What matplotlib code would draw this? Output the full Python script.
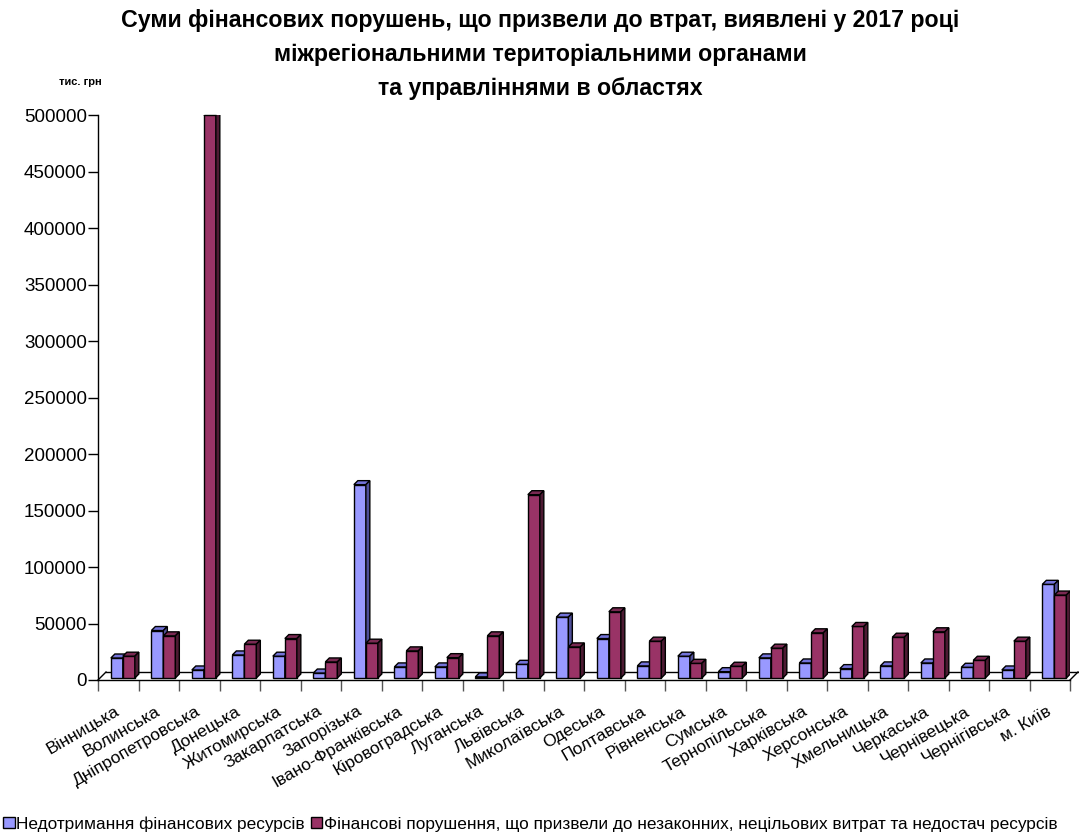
import numpy as np
import matplotlib
matplotlib.use("Agg")
import matplotlib.pyplot as plt
from matplotlib.patches import Polygon, Patch
from matplotlib.transforms import ScaledTranslation, IdentityTransform

regions = ['Вінницька', 'Волинська', 'Дніпропетровська', 'Донецька', 'Житомирська',
           'Закарпатська', 'Запорізька', 'Івано-Франківська', 'Кіровоградська', 'Луганська',
           'Львівська', 'Миколаївська', 'Одеська', 'Полтавська', 'Рівненська', 'Сумська',
           'Тернопільська', 'Харківська', 'Херсонська', 'Хмельницька', 'Черкаська',
           'Чернівецька', 'Чернігівська', 'м. Київ']
underreceived = [17700, 42000, 7100, 20400, 19300, 4400, 171100, 9800, 9800, 1000, 12100, 53900,
                 34900, 10700, 19300, 5600, 17800, 13300, 8300, 10700, 13300, 9500, 7100, 82900]
losses = [19300, 37300, 498000, 29900, 34900, 14200, 30800, 24000, 18000, 37300, 162200, 27500,
          58600, 32600, 13000, 10400, 26400, 40000, 45600, 36100, 40900, 15700, 32600, 73400]
yticks = [0, 50000, 100000, 150000, 200000, 250000, 300000, 350000, 400000, 450000, 500000]
series_names = ['Недотримання фінансових ресурсів',
                'Фінансові порушення, що призвели до незаконних, нецільових витрат та недостач ресурсів']

plt.rcParams['font.family'] = ['Liberation Sans', 'DejaVu Sans']

# front / top / side shades for the pseudo-3d bars
blue = ('#9999FF', '#7373D9', '#4F4F99')
wine = ('#993366', '#7A2952', '#4D1A33')

W, H, DPI = 1079, 838, 100
fig = plt.figure(figsize=(W / DPI, H / DPI), dpi=DPI)
ax = fig.add_axes([98 / W, 1 - 680 / H, 972 / W, 565 / H])
ax.set_xlim(-0.5, len(regions) - 0.5)
ax.set_ylim(0, 500000)

for s in ['top', 'right']:
    ax.spines[s].set_visible(False)
ax.spines['left'].set_linewidth(1)
ax.spines['bottom'].set_linewidth(1)

def px(dx, dy):
    return ScaledTranslation(dx / DPI, dy / DPI, fig.dpi_scale_trans)

# floor: back edge and the two side diagonals
floor = 8
n = len(regions)
ax.plot([-0.5, n - 0.5], [0, 0], color='black', lw=1, clip_on=False,
        transform=ax.transData + px(floor, floor))
for xe in (-0.5, n - 0.5):
    p0 = ax.transData.transform((xe, 0))
    ax.plot([p0[0], p0[0] + floor], [p0[1], p0[1] + floor], color='black', lw=1,
            clip_on=False, transform=IdentityTransform())

x = np.arange(n)
bw = 0.296
lift = px(2, 2)
depth = 4
for xs, vals, cols in [(x - 0.084, underreceived, blue), (x + 0.212, losses, wine)]:
    ax.bar(xs, vals, width=bw, color=cols[0], edgecolor='black', linewidth=1,
           transform=ax.transData + lift, clip_on=False, zorder=3)
    for xc, v in zip(xs, vals):
        (x0, y0) = (ax.transData + lift).transform((xc - bw / 2, 0))
        (x1, y1) = (ax.transData + lift).transform((xc + bw / 2, v))
        top = Polygon([(x0, y1), (x0 + depth, y1 + depth), (x1 + depth, y1 + depth), (x1, y1)],
                      closed=True, facecolor=cols[1], edgecolor='black', lw=1,
                      transform=IdentityTransform(), zorder=3)
        side = Polygon([(x1, y0), (x1 + depth, y0 + depth), (x1 + depth, y1 + depth), (x1, y1)],
                       closed=True, facecolor=cols[2], edgecolor='black', lw=1,
                       transform=IdentityTransform(), zorder=3)
        ax.add_artist(top)
        ax.add_artist(side)

ax.set_yticks(yticks)
ax.set_yticklabels([str(t) for t in yticks], fontsize=13.5)
ax.tick_params(axis='y', length=7, width=1, pad=1)

ax.set_xticks(x)
ax.set_xticklabels(regions, rotation=30, ha='right', va='top', rotation_mode='anchor', fontsize=12.5)
ax.tick_params(axis='x', which='major', length=0, pad=17)
for lab in ax.get_xticklabels():
    lab.set_transform(lab.get_transform() + px(-4, 0))
ax.set_xticks(np.arange(-0.5, n), minor=True)
ax.tick_params(axis='x', which='minor', length=8, width=1, color='#555555')

title_kw = dict(ha='center', va='center', fontsize=16.7, fontweight='bold')
fig.text(540 / W, 1 - 21 / H, 'Суми фінансових порушень, що призвели до втрат, виявлені у 2017 році', **title_kw)
fig.text(540 / W, 1 - 54 / H, 'міжрегіональними територіальними органами', **title_kw)
fig.text(540 / W, 1 - 88 / H, 'та управліннями в областях', **title_kw)
fig.text(80 / W, 1 - 82 / H, 'тис. грн', ha='center', va='center', fontsize=8, fontweight='bold')

handles = [Patch(facecolor=blue[0], edgecolor='black'), Patch(facecolor=wine[0], edgecolor='black')]
fig.legend(handles, series_names, loc='center left', bbox_to_anchor=(0.0, 1 - 824 / H), ncol=2,
           frameon=False, fontsize=12.4, handlelength=0.65, handleheight=0.65,
           handletextpad=0.1, columnspacing=0.35, borderaxespad=0.0, borderpad=0.2)

fig.savefig('out.png', dpi=DPI)
